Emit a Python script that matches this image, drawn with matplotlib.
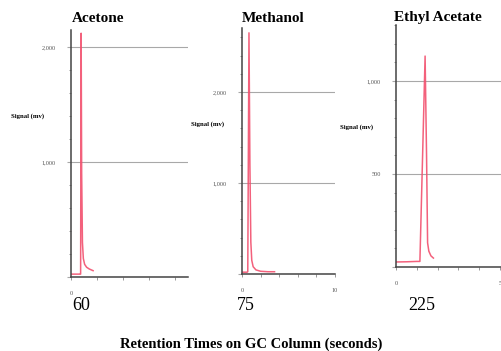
import numpy as np
import matplotlib
matplotlib.use("Agg")
import matplotlib.pyplot as plt
from matplotlib.ticker import MultipleLocator, FuncFormatter

plt.rcParams['font.family'] = ['Liberation Serif', 'DejaVu Serif']

# chromatogram traces (time in min, signal in mv)
names = ["Acetone", "Methanol", "Ethyl Acetate"]
retention = ["60", "75", "225"]

acetone_t = [0.0, 0.70, 0.74, 0.78, 0.82, 0.88, 0.95, 1.05, 1.2, 1.4, 1.7]
acetone_s = [25, 25, 25, 2120, 900, 300, 160, 110, 85, 70, 55]

methanol_t = [0.0, 0.55, 0.62, 0.75, 0.85, 0.95, 1.05, 1.2, 1.5, 2.0, 2.8, 3.5]
methanol_s = [20, 20, 25, 2650, 1200, 350, 150, 80, 45, 30, 25, 25]

ethyl_t = [0.0, 0.5, 1.0, 1.15, 1.28, 1.40, 1.47, 1.52, 1.58, 1.68, 1.8]
ethyl_s = [27, 28, 30, 30, 600, 1134, 600, 130, 85, 60, 48]

traces = [(acetone_t, acetone_s), (methanol_t, methanol_s), (ethyl_t, ethyl_s)]

# panel geometry in pixels: left, right, top, bottom ; limits
W, H = 502, 351
boxes = [(71, 188, 30, 277), (242, 335, 28, 274), (396, 502, 25, 267)]
xlims = [(0, 9), (0, 10), (0, 5.1)]
ylims = [(0, 2148), (0, 2703), (0, 1301)]
ymajor = [1000, 1000, 500]
yminor = [200, 200, 100]
xmajor = [10, 10, 5]
xminor = [2, 2, 1]
title_x = [98, 273, 438]
ylab_pos = [(28, 116), (208, 124), (357, 127)]
ret_x = [81, 246, 422]

fig = plt.figure(figsize=(W / 100, H / 100), dpi=100)

for i in range(3):
    l, r, t, b = boxes[i]
    ax = fig.add_axes([l / W, 1 - b / H, (r - l) / W, (b - t) / H])
    ts, ss = traces[i]
    ax.plot(ts, ss, color='#f2506e', lw=1.1, alpha=0.9)
    ax.set_xlim(*xlims[i])
    ax.set_ylim(*ylims[i])
    ax.yaxis.set_major_locator(MultipleLocator(ymajor[i]))
    ax.yaxis.set_minor_locator(MultipleLocator(yminor[i]))
    ax.xaxis.set_major_locator(MultipleLocator(xmajor[i]))
    ax.xaxis.set_minor_locator(MultipleLocator(xminor[i]))
    ax.yaxis.set_major_formatter(FuncFormatter(
        lambda v, p: '' if v == 0 else f'{int(v):,}'))
    ax.xaxis.set_major_formatter(FuncFormatter(lambda v, p: f'{int(v)}'))
    ax.grid(axis='y', which='major', color='#a8a8a8', lw=0.8)
    for s in ['top', 'right']:
        ax.spines[s].set_visible(False)
    for s in ['left', 'bottom']:
        ax.spines[s].set_color('#444444')
        ax.spines[s].set_linewidth(1.1)
    ax.tick_params(axis='y', which='major', length=3, width=0.8, color='#a8a8a8',
                   labelsize=4.5, labelcolor='#555555', pad=8)
    ax.tick_params(axis='y', which='minor', length=1.5, width=0.6, color='#888888')
    ax.tick_params(axis='x', which='major', length=2, width=0.6, color='#888888',
                   labelsize=4.5, labelcolor='#555555', pad=8)
    ax.tick_params(axis='x', which='minor', length=2, width=0.6, color='#888888')
    ax.set_facecolor('none')

    fig.text(title_x[i] / W, 1 - 18 / H, names[i], ha='center', va='center',
             fontsize=11, fontweight='bold')
    fig.text(ylab_pos[i][0] / W, 1 - ylab_pos[i][1] / H, 'Signal (mv)',
             ha='center', va='center', fontsize=4.8, fontweight='bold')
    fig.text(ret_x[i] / W, 1 - 305 / H, retention[i], ha='center', va='center',
             fontsize=13)

fig.text(251 / W, 1 - 344 / H, 'Retention Times on GC Column (seconds)',
         ha='center', va='center', fontsize=10.5, fontweight='bold')

plt.savefig('out.png', dpi=100)
plt.close()
